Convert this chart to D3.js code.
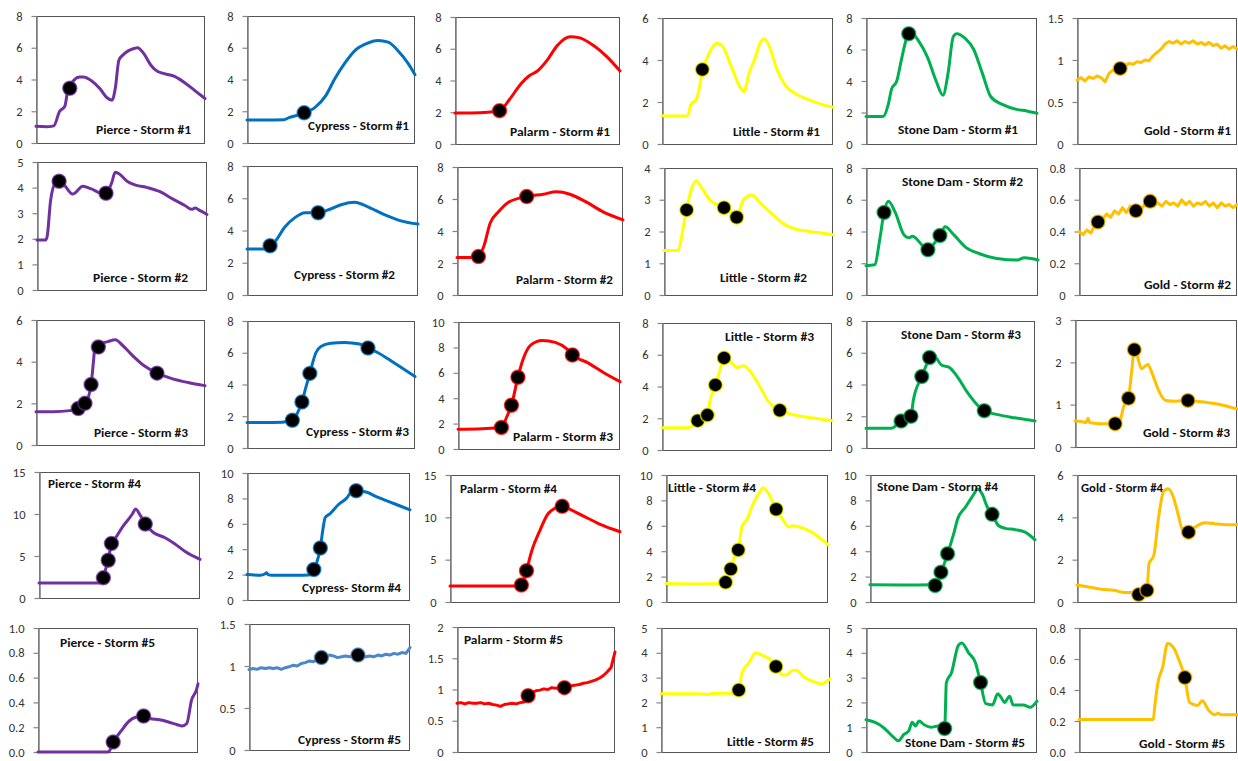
<!DOCTYPE html>
<html>
<head>
<meta charset="utf-8">
<script src="https://cdn.jsdelivr.net/npm/d3@7"></script>
<style>
  body { margin: 0; background: #fff; }
  svg text { font-family: Carlito, Lato, "Liberation Sans", sans-serif; }
</style>
</head>
<body>
<svg id="chart" width="1238" height="761"></svg>
<script>
// ---- data (x = % of storm hydrograph window, y = flow) ----
const sites = ['Pierce', 'Cypress', 'Palarm', 'Little', 'Stone Dam', 'Gold'];
const storms = ['Storm #1', 'Storm #2', 'Storm #3', 'Storm #4', 'Storm #5'];

const pierceTop = [8, 5, 6, 15, 1.0];
const cypressTop = [8, 8, 8, 10, 1.5];
const palarmTop = [8, 8, 10, 15, 2];
const littleTop = [6, 4, 8, 10, 5];
const stoneTop = [8, 8, 8, 10, 5];
const goldTop = [1.5, 0.8, 3, 6, 0.8];

const pierceStep = [2, 1, 2, 5, 0.2];
const cypressStep = [2, 2, 2, 2, 0.5];
const palarmStep = [2, 2, 2, 5, 0.5];
const littleStep = [2, 1, 2, 2, 1];
const stoneStep = [2, 2, 2, 2, 1];
const goldStep = [0.5, 0.2, 1, 2, 0.2];

const pierceFlow = [
    [[0,1.05],[6,1.02],[10.5,1.08],[14,2.0],[17,2.3],[19,3.4],[22,3.9],[26,4.15],[28,4.15],[33,3.9],[38,3.4],[42,2.85],[45,2.7],[47,3.5],[49,5.2],[52,5.6],[58,5.95],[60,6.0],[64,5.6],[68,4.9],[72,4.5],[82,4.2],[88,3.8],[94,3.3],[100,2.8]],
    [[0,1.95],[5,1.95],[6,2.1],[8,3.5],[11,4.2],[13,4.25],[16,4.1],[21,3.75],[27,4.05],[32,3.95],[39,3.75],[42,3.9],[44,4.2],[46,4.6],[48,4.55],[53,4.25],[58,4.1],[65,4.0],[72,3.85],[80,3.55],[87,3.3],[91,3.15],[93,3.2],[96,3.1],[100,2.95]],
    [[0,1.6],[10,1.6],[20,1.65],[25,1.72],[29,2.0],[31,2.3],[32.6,2.9],[34,4.0],[35,4.8],[37,4.85],[42,4.95],[47,5.05],[51,4.8],[57,4.3],[64,3.8],[71.6,3.45],[80,3.2],[90,3.0],[100,2.85]],
    [[0,1.8],[20,1.8],[38,1.8],[40,2.4],[41.5,3.5],[43,4.5],[45,6.5],[47,7.0],[52,8.5],[58,10.0],[60,10.6],[63,9.8],[66,8.8],[71,7.8],[78,7.2],[84,6.5],[91,5.5],[100,4.6]],
    [[0,0],[20,0],[44,0],[47,0.08],[52,0.17],[57,0.25],[61,0.28],[66,0.29],[70,0.27],[76,0.26],[82,0.24],[87,0.22],[90,0.21],[93,0.23],[96,0.42],[99,0.5],[100,0.55]]
];
const pierceDots = [
    [[20,3.45]],
    [[13,4.25],[40.6,3.78]],
    [[25,1.75],[29,2.0],[32.6,2.9],[36.9,4.7],[71.6,3.45]],
    [[40,2.4],[43,4.5],[45,6.5],[66,8.8]],
    [[47,0.08],[66,0.29]]
];

const cypressFlow = [
    [[0,1.45],[10,1.45],[22,1.47],[25,1.6],[30,1.75],[34,1.9],[40,2.2],[47,3.0],[52,4.0],[58,5.0],[65,5.9],[72,6.3],[78,6.45],[84,6.35],[90,5.8],[96,5.0],[100,4.3]],
    [[0,2.85],[10,2.85],[13.5,3.05],[17,3.4],[22,4.2],[28,4.8],[34,5.1],[41.6,5.1],[48,5.3],[55,5.6],[63,5.75],[70,5.5],[80,5.0],[90,4.6],[100,4.4]],
    [[0,1.6],[15,1.6],[27,1.72],[30,2.2],[32.7,2.9],[35,3.8],[37.4,4.7],[41,6.0],[44,6.4],[50,6.6],[58,6.65],[67,6.55],[72,6.3],[78,6.0],[87,5.4],[100,4.5]],
    [[0,2.0],[8,1.95],[11,2.05],[12,2.15],[13,2.0],[15,1.95],[30,1.95],[38,1.97],[41,2.4],[44,3.5],[45,4.1],[46.5,5.5],[48,6.5],[51,6.8],[56,7.5],[61,8.0],[65,8.6],[67,8.6],[73,8.5],[80,8.1],[90,7.6],[100,7.1]],
    [0.96,0.97,0.96,0.98,0.97,0.98,0.97,0.98,0.96,0.98,0.99,1.01,1.00,1.03,1.04,1.06,1.05,1.08,1.09,1.11,1.13,1.12,1.10,1.11,1.12,1.11,1.13,1.12,1.10,1.11,1.12,1.11,1.13,1.12,1.14,1.13,1.15,1.14,1.16,1.15,1.22]
];
const cypressDots = [
    [[34,1.9]],
    [[13.5,3.05],[41.6,5.1]],
    [[27,1.75],[32.7,2.9],[37.4,4.7],[72,6.3]],
    [[41,2.4],[45,4.1],[67,8.6]],
    [[45,1.1],[67.7,1.13]]
];

const palarmFlow = [
    [[0,1.95],[10,1.95],[20,2.0],[27,2.1],[33,2.8],[40,3.8],[45,4.3],[50,4.6],[56,5.3],[62,6.2],[70,6.75],[75,6.7],[84,6.2],[92,5.5],[100,4.6]],
    [[0,2.35],[10,2.35],[12.9,2.4],[16,3.0],[20,4.5],[25,5.2],[31,5.8],[42,6.15],[52,6.3],[60,6.45],[68,6.3],[78,5.8],[88,5.2],[100,4.7]],
    [[0,1.55],[15,1.6],[26.8,1.7],[30,2.5],[33,3.45],[37,5.65],[40,7.0],[45,8.2],[52,8.55],[60,8.4],[67,7.9],[70.6,7.4],[80,6.8],[90,6.0],[100,5.3]],
    [[0,1.9],[20,1.9],[40,1.9],[42,2.0],[45,3.7],[48,6.0],[53,8.5],[58,10.5],[66,11.3],[70,11.0],[78,10.2],[88,9.2],[100,8.3]],
    [0.78,0.79,0.77,0.79,0.78,0.78,0.79,0.77,0.78,0.76,0.75,0.73,0.76,0.77,0.78,0.77,0.79,0.80,0.90,0.95,0.98,0.99,1.01,1.00,1.03,1.02,1.03,1.03,1.05,1.06,1.07,1.08,1.10,1.11,1.13,1.15,1.18,1.22,1.28,1.35,1.60]
];
const palarmDots = [
    [[27,2.1]],
    [[12.9,2.4],[42,6.15]],
    [[26.8,1.7],[33,3.45],[37,5.65],[70.6,7.4]],
    [[42,2.0],[45,3.7],[66,11.3]],
    [[45,0.9],[68,1.03]]
];

const littleFlow = [
    [[0,1.35],[10,1.33],[15,1.35],[17,1.9],[20,2.1],[24,3.55],[28,4.4],[32,4.8],[35,4.7],[40,3.8],[45,2.8],[48,2.5],[51,3.4],[54,4.0],[58,4.9],[60,5.0],[63,4.6],[67,3.6],[72,2.8],[78,2.4],[86,2.1],[93,1.9],[100,1.75]],
    [[0,1.4],[8,1.4],[13,2.6],[16,3.3],[19,3.6],[22,3.4],[27,3.0],[35.5,2.75],[40,2.6],[43,2.45],[47,3.0],[52,3.15],[57,2.9],[65,2.5],[72,2.2],[80,2.05],[86,2.0],[93,1.95],[100,1.9]],
    [[0,1.4],[15,1.4],[19,1.6],[21,1.85],[26.7,2.2],[28,3.0],[31.4,4.1],[34,5.0],[36.5,5.8],[40,5.6],[44,5.2],[48,5.3],[53,4.8],[58,3.9],[63,3.0],[69.3,2.5],[78,2.2],[90,2.0],[100,1.85]],
    [[0,1.45],[20,1.42],[35,1.45],[36.8,1.55],[40,2.6],[42,3.5],[44.6,4.1],[47,6.0],[50,6.5],[53,7.5],[58,8.7],[60,9.0],[63,8.6],[68,7.3],[72,6.5],[76,5.9],[78,6.0],[84,5.85],[90,5.5],[100,4.5]],
    [[0,2.35],[20,2.35],[28,2.32],[30,2.36],[45,2.38],[46,2.5],[48,3.2],[52,3.6],[56,4.0],[60,3.9],[65,3.7],[68,3.45],[72,3.1],[74,3.1],[78,3.3],[80,3.3],[85,3.0],[90,2.85],[95,2.75],[100,2.95]]
];
const littleDots = [
    [[23.6,3.55]],
    [[13.4,2.68],[35.5,2.75],[43,2.45]],
    [[21,1.85],[26.7,2.2],[31.4,4.1],[36.5,5.8],[69.3,2.5]],
    [[36.8,1.55],[40,2.6],[44.6,4.1],[68,7.3]],
    [[46,2.5],[68,3.45]]
];

const stoneFlow = [
    [[0,1.75],[10,1.75],[13,2.5],[15,3.5],[18,4.0],[21,5.5],[24,6.8],[25,7.0],[27,7.0],[31,6.5],[36,5.5],[41,4.0],[45,3.1],[48,4.5],[51,6.8],[53,7.0],[58,6.7],[63,6.0],[68,4.5],[73,3.0],[80,2.5],[88,2.2],[94,2.1],[100,1.95]],
    [[0,1.85],[5,1.9],[8,3.5],[10.5,5.2],[13,5.9],[17,5.2],[22,3.8],[25,3.6],[27,3.7],[33,3.1],[36,2.85],[40,3.3],[43,3.75],[46,4.3],[51,3.8],[58,3.0],[66,2.6],[76,2.3],[88,2.2],[92,2.35],[96,2.3],[100,2.2]],
    [[0,1.25],[15,1.25],[17,1.35],[19,1.6],[20.8,1.7],[26.6,2.0],[28,3.0],[33,4.5],[36,5.3],[37.6,5.7],[40,5.8],[45,5.2],[49,5.1],[54,4.5],[60,3.5],[66,2.7],[70,2.35],[78,2.1],[88,1.9],[100,1.7]],
    [[0,1.35],[20,1.33],[37,1.35],[39.5,1.3],[43,2.35],[45,3.0],[47,3.8],[51,5.5],[53,6.5],[58,7.5],[63,8.5],[65,8.9],[68,8.5],[71,7.5],[74,6.9],[78,6.0],[82,5.8],[88,5.7],[94,5.5],[100,4.9]],
    [[0,1.3],[5,1.2],[10,1.0],[16,0.6],[19,0.45],[22,0.7],[25,0.85],[27,1.2],[29,1.05],[31,1.25],[34,1.1],[38,1.0],[42,1.05],[46,0.95],[47,2.8],[50,3.2],[54,4.3],[56,4.4],[60,4.0],[64,3.6],[67,2.8],[70,1.95],[74,1.9],[77,2.35],[79,2.2],[81,2.0],[84,2.25],[86,1.9],[92,1.9],[96,1.8],[100,2.05]]
];
const stoneDots = [
    [[25,7.0]],
    [[10.5,5.2],[36,2.85],[43,3.75]],
    [[20.8,1.7],[26.6,2.0],[33,4.5],[37.6,5.7],[70,2.35]],
    [[39.5,1.3],[43,2.35],[47,3.8],[74,6.9]],
    [[46,0.95],[67,2.8]]
];

const goldFlow = [
    [0.76,0.79,0.75,0.80,0.78,0.81,0.79,0.74,0.84,0.88,0.86,0.91,0.93,0.96,0.95,0.98,0.97,1.00,0.99,1.05,1.09,1.13,1.19,1.22,1.20,1.23,1.19,1.22,1.20,1.23,1.19,1.21,1.18,1.21,1.17,1.19,1.14,1.17,1.13,1.16,1.13],
    [0.40,0.38,0.41,0.39,0.44,0.46,0.48,0.51,0.49,0.53,0.51,0.55,0.52,0.56,0.53,0.56,0.55,0.58,0.59,0.56,0.58,0.56,0.59,0.57,0.58,0.56,0.60,0.57,0.59,0.56,0.58,0.57,0.59,0.56,0.58,0.55,0.58,0.56,0.57,0.55,0.57],
    [[0,0.62],[4,0.6],[7,0.58],[8,0.68],[9,0.58],[12,0.56],[15,0.55],[20,0.55],[24.8,0.53],[28,0.65],[30,0.95],[33,1.15],[35,1.8],[36.6,2.3],[38,2.2],[41,1.85],[43,1.9],[45,1.95],[47,1.8],[49,1.6],[52,1.3],[56,1.1],[62,1.08],[69.7,1.1],[75,1.08],[82,1.05],[90,1.0],[95,0.95],[100,0.9]],
    [[0,0.8],[8,0.7],[15,0.6],[23,0.55],[30,0.45],[35,0.45],[38.5,0.35],[43.7,0.55],[45,1.8],[48,2.2],[51,4.0],[54,5.2],[57,5.35],[60,5.0],[63,4.2],[66,3.4],[69.7,3.3],[73,3.5],[80,3.75],[86,3.7],[93,3.65],[100,3.65]],
    [[0,0.21],[20,0.21],[47,0.21],[48,0.3],[50,0.45],[53,0.55],[56,0.7],[60,0.67],[63,0.6],[67,0.48],[70,0.32],[75,0.3],[78,0.33],[82,0.27],[86,0.24],[88,0.25],[90,0.24],[95,0.24],[100,0.24]]
];
const goldDots = [
    [[27,0.9]],
    [[12,0.46],[36,0.53],[45,0.59]],
    [[24.8,0.55],[33,1.15],[36.6,2.3],[69.7,1.1]],
    [[38.5,0.35],[43.7,0.55],[69.7,3.3]],
    [[67,0.48]]
];

// ---- layout ----
const siteColors = ['#7030a0', '#0070c0', '#ff0000', '#ffff00', '#00b050', '#ffc000'];

// plot boxes [left, top, right, bottom] per storm row, per site column
const boxes = [
    [[36,16,205,143],[247,16,415,143],[455,17,620,144],[662,18,833,144],[866,18,1037,144],[1077,18,1237,144]],
    [[37,162,207,290],[247,166,418,295],[457,167,623,295],[664,168,833,295],[866,168,1038,295],[1079,168,1237,295]],
    [[36,320,205,445],[247,321,415,448],[458,322,620,449],[662,323,832,450],[866,321,1035,448],[1075,320,1237,447]],
    [[39,472,200,598],[247,473,410,600],[450,475,620,602],[666,475,828,602],[870,475,1035,602],[1077,475,1237,602]],
    [[38,628,198,752],[249,624,410,750],[457,627,615,752],[661,628,830,752],[866,628,1037,752],[1079,628,1237,752]]
];
// title spots [x start, x end, y middle]
const titleSpots = [
    [[96,191,130],[308,409,126],[510,610,132],[733,820,132],[898,1018,130],[1144,1231,131]],
    [[93,188,278],[294,395,275],[516,613,280],[720,807,278],[902,1023,182],[1144,1231,285]],
    [[94,188,433],[306,409,432],[513,613,437],[725,814,337],[901,1021,335],[1143,1230,433]],
    [[48,141,484],[302,401,588],[460,557,489],[668,756,488],[877,998,487],[1081,1163,488]],
    [[60,155,643],[298,401,740],[464,563,640],[727,814,742],[905,1025,743],[1139,1225,744]]
];

const flows = [pierceFlow, cypressFlow, palarmFlow, littleFlow, stoneFlow, goldFlow];
const dots = [pierceDots, cypressDots, palarmDots, littleDots, stoneDots, goldDots];
const tops = [pierceTop, cypressTop, palarmTop, littleTop, stoneTop, goldTop];
const steps = [pierceStep, cypressStep, palarmStep, littleStep, stoneStep, goldStep];

let svg = d3.select('#chart');

for (let r = 0; r < storms.length; ++r) {
    for (let c = 0; c < sites.length; ++c) {
        drawPanel(r, c);
    }
}

function drawPanel(r, c)
{
    let box = boxes[r][c];
    let top = tops[c][r];
    let step = steps[c][r];
    let color = siteColors[c];
    // the last Cypress storm is drawn in a paler blue
    if (c === 1 && r === 4) color = '#4f86c6';

    let xScale = d3.scaleLinear().domain([0, 100]).range([box[0], box[2]]);
    let yScale = d3.scaleLinear().domain([0, top]).range([box[3], box[1]]);

    let g = svg.append('g').attr('class', 'panel');

    g.append('rect')
        .attr('x', box[0] + 0.5)
        .attr('y', box[1] + 0.5)
        .attr('width', box[2] - box[0] - 1)
        .attr('height', box[3] - box[1])
        .attr('fill', 'none')
        .attr('stroke', '#555')
        .attr('stroke-width', 1);

    let oneDecimal = (c === 0 && r === 4) || (c === 5 && r === 4);
    let tickVals = d3.range(0, top + step / 2, step);

    let axis = d3.axisLeft(yScale)
        .tickValues(tickVals)
        .tickSizeInner(5)
        .tickSizeOuter(0)
        .tickPadding(9)
        .tickFormat(function(v) { return oneDecimal ? v.toFixed(1) : String(+v.toFixed(2)); });

    let ax = g.append('g')
        .attr('transform', 'translate(' + (box[0] + 0.5) + ',0)')
        .call(axis);
    ax.select('.domain').attr('stroke', '#858585').attr('stroke-width', 1.6);
    ax.selectAll('.tick line').attr('stroke', '#858585').attr('stroke-width', 1.2);
    ax.selectAll('.tick text')
        .attr('fill', '#333')
        .style('font-size', '12.5px')
        .style('font-family', 'Carlito, Lato, sans-serif');

    // flow line
    let series = flows[c][r];
    let pts, curve;
    if (typeof series[0] === 'number') {
        pts = series.map(function(v, i) { return [i * 100 / (series.length - 1), v]; });
        curve = d3.curveLinear;
    } else {
        pts = series;
        curve = d3.curveMonotoneX;
    }

    let line = d3.line()
        .x(function(d) { return xScale(d[0]); })
        .y(function(d) { return yScale(d[1]); })
        .curve(curve);

    g.append('path')
        .datum(pts)
        .attr('d', line)
        .attr('fill', 'none')
        .attr('stroke', color)
        .attr('stroke-width', 3)
        .attr('stroke-linejoin', 'round')
        .attr('stroke-linecap', 'round');

    // title
    let spot = titleSpots[r][c];
    let title = sites[c] + (c === 1 && r === 3 ? '- ' : ' - ') + storms[r];
    g.append('text')
        .attr('x', spot[0])
        .attr('y', spot[2])
        .attr('dy', '0.35em')
        .attr('textLength', spot[1] - spot[0])
        .attr('lengthAdjust', 'spacingAndGlyphs')
        .attr('fill', '#111')
        .style('font-size', '12.5px')
        .style('font-weight', 'bold')
        .text(title);

    // sample markers
    g.selectAll('.sample')
        .data(dots[c][r])
        .enter().append('circle')
        .attr('class', 'sample')
        .attr('cx', function(d) { return xScale(d[0]); })
        .attr('cy', function(d) { return yScale(d[1]); })
        .attr('r', 7)
        .attr('fill', '#000')
        .attr('stroke', color)
        .attr('stroke-opacity', 0.7)
        .attr('stroke-width', 1.5);
}
</script>
</body>
</html>
